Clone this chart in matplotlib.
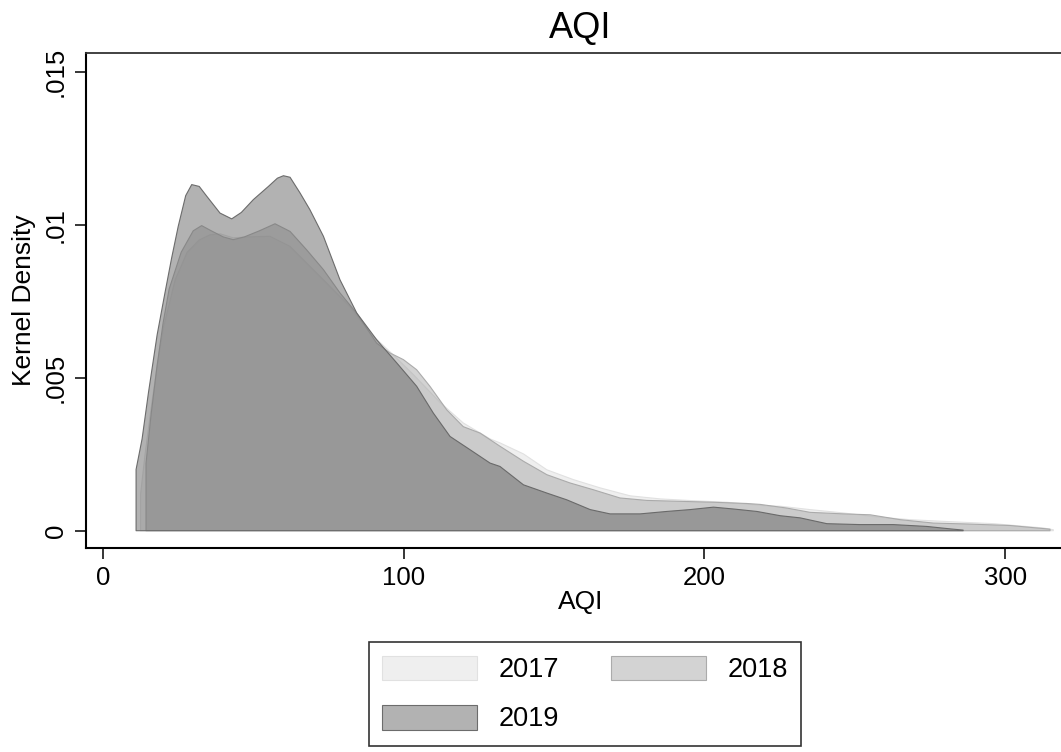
import numpy as np
import matplotlib
matplotlib.use("Agg")
import matplotlib.pyplot as plt
from matplotlib.ticker import FixedLocator, FixedFormatter

plt.rcParams['font.family'] = ['Liberation Sans', 'DejaVu Sans']

# kernel density estimates of daily AQI, one curve per year
x2017 = [12.5, 14, 16, 18, 20, 24, 28, 32, 35.6, 39, 43.3, 48, 55.5, 62.2, 68.8,
         75.5, 82.1, 88.8, 95.4, 103.2, 112, 119.8, 128.7, 132, 139.8, 147.6,
         156.4, 165.3, 175.3, 185.2, 196.3, 207.4, 219.6, 225.2, 235.1, 246.2,
         257.3, 268.4, 280.6, 296.1, 312.7, 316]
y2017 = [0.0012, 0.0025, 0.0040, 0.0054, 0.0066, 0.0082, 0.0091, 0.0095, 0.00967,
         0.0097, 0.00957, 0.0096, 0.00962, 0.00929, 0.00864, 0.00798, 0.00733,
         0.00646, 0.00585, 0.0051, 0.0042, 0.00352, 0.0030, 0.00287, 0.00251,
         0.00199, 0.00167, 0.0014, 0.00114, 0.00104, 0.00098, 0.00093, 0.00082,
         0.00080, 0.00069, 0.00058, 0.00045, 0.00036, 0.0003, 0.00023, 0.00009,
         0.00003]

x2018 = [14.3, 16, 18, 20, 22, 26, 30, 32.8, 36, 40, 43.3, 47, 52, 57.2, 62.2,
         67.7, 73.3, 78.8, 84.4, 91, 95.4, 99.9, 104.3, 108.7, 114.3, 119.8,
         125.4, 132, 139.8, 147.6, 155.3, 163, 171.9, 180.8, 191.9, 203, 214,
         218.5, 227.4, 235.1, 246.2, 255.1, 265.1, 276.1, 287.2, 301.6, 314.9]
y2018 = [0.0022, 0.0038, 0.0054, 0.0068, 0.0079, 0.0091, 0.0098, 0.00997, 0.0098,
         0.0096, 0.00951, 0.0096, 0.0098, 0.01003, 0.00978, 0.00918, 0.00853,
         0.00777, 0.0071, 0.00613, 0.00581, 0.00559, 0.00526, 0.00472, 0.00395,
         0.0034, 0.00319, 0.00276, 0.00227, 0.00183, 0.00156, 0.00134, 0.00107,
         0.00099, 0.00096, 0.00093, 0.00089, 0.00086, 0.00074, 0.0006, 0.00055,
         0.00052, 0.00036, 0.00025, 0.00022, 0.00017, 0.00005]

x2019 = [11, 13, 15.1, 18, 20.6, 22.8, 25, 27.5, 29.5, 32, 34.5, 38.9, 42.8, 46,
         50, 55, 58, 60, 62.2, 65.5, 68.8, 73.3, 78.8, 84.4, 91, 97.7, 104.3,
         109.8, 115.4, 122, 128.7, 132, 139.8, 147.6, 154.2, 162, 168.6, 178.6,
         187.5, 195.2, 203, 209.6, 217.4, 225.2, 231.8, 240.7, 251.7, 262.8,
         273.9, 281.7, 286]
y2019 = [0.0020, 0.0030, 0.0045, 0.0064, 0.00777, 0.0089, 0.00994, 0.01095,
         0.01131, 0.01125, 0.01093, 0.01038, 0.01019, 0.0104, 0.01082, 0.01125,
         0.01152, 0.0116, 0.01155, 0.01104, 0.01049, 0.00962, 0.0082, 0.00711,
         0.00624, 0.00548, 0.00472, 0.00385, 0.00308, 0.00265, 0.00221, 0.0021,
         0.0015, 0.00123, 0.00101, 0.00069, 0.00055, 0.00055, 0.00063, 0.00069,
         0.00077, 0.00071, 0.00063, 0.00049, 0.00042, 0.00023, 0.0002, 0.0002,
         0.00014, 0.00006, 0.00002]

years = ['2017', '2018', '2019']
curves = [(x2017, y2017), (x2018, y2018), (x2019, y2019)]
greys = [0.88, 0.66, 0.40]

xticks = [0, 100, 200, 300]
yticks = [0, 0.005, 0.01, 0.015]
ytick_labels = ['0', '.005', '.01', '.015']

fig = plt.figure(figsize=(10.61, 7.52), dpi=100)
ax = fig.add_axes([86/1061, 1-548/752, (1075-86)/1061, (548-53)/752])

handles = []
for (xs, ys), g, lab in zip(curves, greys, years):
    xs = np.asarray(xs)
    ys = np.asarray(ys)
    px = np.r_[xs[0], xs, xs[-1]]
    py = np.r_[0, ys, 0]
    h, = ax.fill(px, py, facecolor=(g, g, g, 0.5), edgecolor=(g, g, g, 0.95),
                 linewidth=0.8, joinstyle='round', label=lab)
    handles.append(h)

ax.set_xlim(-5.65, 323.2)
ax.set_ylim(-0.000565, 0.01561)

ax.xaxis.set_major_locator(FixedLocator(xticks))
ax.yaxis.set_major_locator(FixedLocator(yticks))
ax.yaxis.set_major_formatter(FixedFormatter(ytick_labels))

ax.tick_params(direction='out', length=8, width=1.1, labelsize=18.5, color='black')
ax.tick_params(axis='x', pad=5)
ax.tick_params(axis='y', pad=5, labelrotation=90)
for t in ax.get_yticklabels():
    t.set_va('center')

for s in ['left', 'bottom']:
    ax.spines[s].set_linewidth(1.5)
    ax.spines[s].set_color('black')
ax.spines['top'].set_linewidth(1.3)
ax.spines['top'].set_color('#333333')
ax.spines['right'].set_visible(False)

ax.set_xlabel('AQI', fontsize=19, labelpad=0)
ax.set_ylabel('Kernel Density', fontsize=19, labelpad=6)
ax.set_title('AQI', fontsize=26, pad=11)

# legend fills column by column, so order the handles to read 2017 2018 / 2019
order = [0, 2, 1]
leg = fig.legend([handles[i] for i in order], [years[i] for i in order],
                 loc='upper center', bbox_to_anchor=(585/1061, 1-642/752),
                 ncol=2, fontsize=19.5, frameon=True, fancybox=False,
                 handlelength=3.5, handleheight=1.03, handletextpad=0.78,
                 columnspacing=1.95, labelspacing=0.8, borderpad=0.5,
                 borderaxespad=0)
leg.get_frame().set_edgecolor('black')
leg.get_frame().set_linewidth(1.2)

fig.savefig('out.png', dpi=100, facecolor='white')
